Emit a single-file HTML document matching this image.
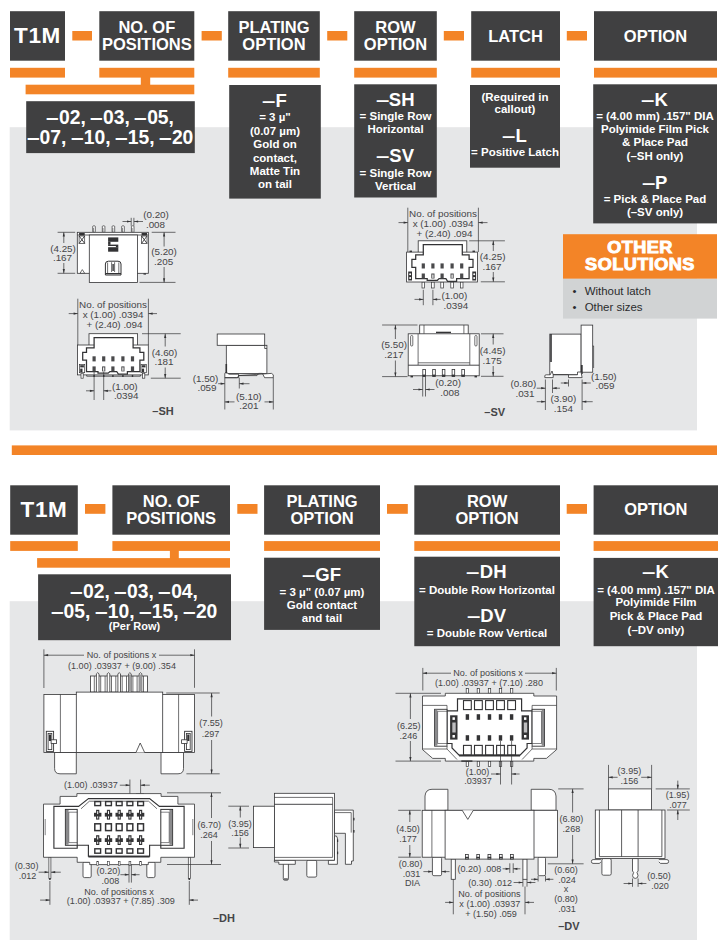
<!DOCTYPE html>
<html lang="en"><head><meta charset="utf-8"><title>T1M Series Ordering</title>
<style>
html,body{margin:0;padding:0;background:#fff}
body{width:725px;height:940px;position:relative;overflow:hidden;font-family:"Liberation Sans",Arial,Helvetica,sans-serif}
.b{position:absolute}
.t{position:absolute;text-align:center;white-space:nowrap}
.d{display:inline-block;transform:scaleX(1.3);transform-origin:100% 50%;margin-left:2px}
.e{display:inline-block;transform:scaleX(1.18);transform-origin:100% 50%;margin-left:1.2px}
.l{position:absolute;font-size:11.45px;line-height:16px;color:#2b2b2d;white-space:nowrap}
svg{position:absolute;left:0;top:0}
svg text{font-family:"Liberation Sans",Arial,Helvetica,sans-serif;fill:#454547}
</style></head><body>
<svg width="725" height="940" viewBox="0 0 725 940">
<rect x="9.7" y="127.2" width="687.3" height="303.2" fill="#e6e7e8"/>
<rect x="9.7" y="601.2" width="687.3" height="338.8" fill="#e6e7e8"/>
<rect x="11.8" y="445.4" width="705.2" height="9.6" fill="#f38427"/>
<rect x="10.0" y="11.2" width="55.0" height="49.5" fill="#404041"/>
<rect x="10.0" y="67.8" width="55.0" height="9.8" fill="#f38427"/>
<rect x="99.3" y="11.2" width="95.0" height="49.5" fill="#404041"/>
<rect x="99.3" y="67.8" width="95.0" height="9.8" fill="#f38427"/>
<rect x="228.2" y="11.2" width="91.6" height="49.5" fill="#404041"/>
<rect x="228.2" y="67.8" width="91.6" height="9.8" fill="#f38427"/>
<rect x="354.2" y="11.2" width="82.6" height="49.5" fill="#404041"/>
<rect x="354.2" y="67.8" width="82.6" height="9.8" fill="#f38427"/>
<rect x="471.2" y="11.2" width="88.8" height="49.5" fill="#404041"/>
<rect x="471.2" y="67.8" width="88.8" height="9.8" fill="#f38427"/>
<rect x="594.0" y="11.2" width="123.0" height="49.5" fill="#404041"/>
<rect x="594.0" y="67.8" width="123.0" height="9.8" fill="#f38427"/>
<rect x="72.3" y="31.0" width="19.7" height="9.5" fill="#f38427"/>
<rect x="201.6" y="31.0" width="20.2" height="9.5" fill="#f38427"/>
<rect x="327.2" y="31.0" width="20.1" height="9.5" fill="#f38427"/>
<rect x="443.8" y="31.0" width="20.2" height="9.5" fill="#f38427"/>
<rect x="566.8" y="31.0" width="20.2" height="9.5" fill="#f38427"/>
<rect x="140.8" y="77.0" width="9.4" height="8.5" fill="#f38427"/>
<rect x="25.6" y="84.7" width="168.7" height="9.6" fill="#f38427"/>
<rect x="26.2" y="101.2" width="168.6" height="51.9" fill="#404041"/>
<rect x="229.2" y="85.0" width="91.6" height="113.6" fill="#404041"/>
<rect x="354.2" y="84.3" width="82.6" height="113.2" fill="#404041"/>
<rect x="470.0" y="85.0" width="90.0" height="82.7" fill="#404041"/>
<rect x="593.2" y="84.3" width="123.8" height="139.1" fill="#404041"/>
<rect x="563.0" y="234.2" width="154.0" height="44.6" fill="#f38427"/>
<rect x="563.0" y="278.8" width="154.0" height="39.8" fill="#d1d3d4"/>
<rect x="10.2" y="485.3" width="67.6" height="49.4" fill="#404041"/>
<rect x="10.2" y="541.1" width="67.6" height="9.8" fill="#f38427"/>
<rect x="112.4" y="485.3" width="117.6" height="49.4" fill="#404041"/>
<rect x="112.4" y="541.1" width="117.6" height="9.8" fill="#f38427"/>
<rect x="264.1" y="485.3" width="115.9" height="49.4" fill="#404041"/>
<rect x="264.1" y="541.1" width="115.9" height="9.8" fill="#f38427"/>
<rect x="414.3" y="485.3" width="145.7" height="49.4" fill="#404041"/>
<rect x="414.3" y="541.1" width="145.7" height="9.8" fill="#f38427"/>
<rect x="593.6" y="485.3" width="124.4" height="49.4" fill="#404041"/>
<rect x="593.6" y="541.1" width="124.4" height="9.8" fill="#f38427"/>
<rect x="85.0" y="504.0" width="20.4" height="9.8" fill="#f38427"/>
<rect x="237.3" y="504.0" width="20.2" height="9.8" fill="#f38427"/>
<rect x="387.0" y="504.0" width="20.8" height="9.8" fill="#f38427"/>
<rect x="566.7" y="504.0" width="20.3" height="9.8" fill="#f38427"/>
<rect x="169.9" y="550.0" width="8.9" height="9.0" fill="#f38427"/>
<rect x="37.1" y="558.1" width="192.9" height="9.6" fill="#f38427"/>
<rect x="38.1" y="574.3" width="192.9" height="65.9" fill="#404041"/>
<rect x="264.1" y="557.7" width="115.9" height="72.2" fill="#404041"/>
<rect x="414.3" y="556.7" width="145.7" height="89.5" fill="#404041"/>
<rect x="593.6" y="557.9" width="124.4" height="88.3" fill="#404041"/>
</svg>
<div class="t" style="left:-162.5px;top:22.10px;width:400px;font-size:22.5px;line-height:27px;color:#fff;font-weight:bold;letter-spacing:0.6px;">T1M</div>
<div class="t" style="left:-53.2px;top:17.38px;width:400px;font-size:16.5px;line-height:20px;color:#fff;font-weight:bold;">NO. OF</div>
<div class="t" style="left:-53.2px;top:33.98px;width:400px;font-size:16.5px;line-height:20px;color:#fff;font-weight:bold;">POSITIONS</div>
<div class="t" style="left:74.0px;top:17.38px;width:400px;font-size:16.5px;line-height:20px;color:#fff;font-weight:bold;">PLATING</div>
<div class="t" style="left:74.0px;top:33.98px;width:400px;font-size:16.5px;line-height:20px;color:#fff;font-weight:bold;">OPTION</div>
<div class="t" style="left:195.5px;top:17.38px;width:400px;font-size:16.5px;line-height:20px;color:#fff;font-weight:bold;">ROW</div>
<div class="t" style="left:195.5px;top:33.98px;width:400px;font-size:16.5px;line-height:20px;color:#fff;font-weight:bold;">OPTION</div>
<div class="t" style="left:315.6px;top:25.78px;width:400px;font-size:16.5px;line-height:20px;color:#fff;font-weight:bold;">LATCH</div>
<div class="t" style="left:455.5px;top:25.78px;width:400px;font-size:16.5px;line-height:20px;color:#fff;font-weight:bold;">OPTION</div>
<div class="t" style="left:-89.5px;top:105.71px;width:400px;font-size:19.3px;line-height:23px;color:#fff;font-weight:bold;"><span class="e">&ndash;</span>02, <span class="e">&ndash;</span>03, <span class="e">&ndash;</span>05,</div>
<div class="t" style="left:-89.5px;top:126.21px;width:400px;font-size:19.3px;line-height:23px;color:#fff;font-weight:bold;"><span class="e">&ndash;</span>07, <span class="e">&ndash;</span>10, <span class="e">&ndash;</span>15, <span class="e">&ndash;</span>20</div>
<div class="t" style="left:75.0px;top:90.19px;width:400px;font-size:18.5px;line-height:22px;color:#fff;font-weight:bold;"><span class="d">&ndash;</span>F</div>
<div class="t" style="left:75.0px;top:110.42px;width:400px;font-size:11.5px;line-height:14px;color:#fff;font-weight:bold;">= 3 &micro;"</div>
<div class="t" style="left:75.0px;top:123.92px;width:400px;font-size:11.5px;line-height:14px;color:#fff;font-weight:bold;">(0.07 &micro;m)</div>
<div class="t" style="left:75.0px;top:137.32px;width:400px;font-size:11.5px;line-height:14px;color:#fff;font-weight:bold;">Gold on</div>
<div class="t" style="left:75.0px;top:150.72px;width:400px;font-size:11.5px;line-height:14px;color:#fff;font-weight:bold;">contact,</div>
<div class="t" style="left:75.0px;top:164.12px;width:400px;font-size:11.5px;line-height:14px;color:#fff;font-weight:bold;">Matte Tin</div>
<div class="t" style="left:75.0px;top:177.42px;width:400px;font-size:11.5px;line-height:14px;color:#fff;font-weight:bold;">on tail</div>
<div class="t" style="left:195.5px;top:89.39px;width:400px;font-size:18.5px;line-height:22px;color:#fff;font-weight:bold;"><span class="d">&ndash;</span>SH</div>
<div class="t" style="left:195.5px;top:109.42px;width:400px;font-size:11.5px;line-height:14px;color:#fff;font-weight:bold;">= Single Row</div>
<div class="t" style="left:195.5px;top:122.22px;width:400px;font-size:11.5px;line-height:14px;color:#fff;font-weight:bold;">Horizontal</div>
<div class="t" style="left:195.5px;top:145.19px;width:400px;font-size:18.5px;line-height:22px;color:#fff;font-weight:bold;"><span class="d">&ndash;</span>SV</div>
<div class="t" style="left:195.5px;top:166.02px;width:400px;font-size:11.5px;line-height:14px;color:#fff;font-weight:bold;">= Single Row</div>
<div class="t" style="left:195.5px;top:179.22px;width:400px;font-size:11.5px;line-height:14px;color:#fff;font-weight:bold;">Vertical</div>
<div class="t" style="left:315.0px;top:89.72px;width:400px;font-size:11.5px;line-height:14px;color:#fff;font-weight:bold;">(Required in</div>
<div class="t" style="left:315.0px;top:102.32px;width:400px;font-size:11.5px;line-height:14px;color:#fff;font-weight:bold;">callout)</div>
<div class="t" style="left:315.0px;top:124.59px;width:400px;font-size:18.5px;line-height:22px;color:#fff;font-weight:bold;"><span class="d">&ndash;</span>L</div>
<div class="t" style="left:315.0px;top:145.42px;width:400px;font-size:11.5px;line-height:14px;color:#fff;font-weight:bold;">= Positive Latch</div>
<div class="t" style="left:455.0px;top:88.79px;width:400px;font-size:18.5px;line-height:22px;color:#fff;font-weight:bold;"><span class="d">&ndash;</span>K</div>
<div class="t" style="left:455.0px;top:109.22px;width:400px;font-size:11.5px;line-height:14px;color:#fff;font-weight:bold;">= (4.00 mm) .157" DIA</div>
<div class="t" style="left:455.0px;top:122.22px;width:400px;font-size:11.5px;line-height:14px;color:#fff;font-weight:bold;">Polyimide Film Pick</div>
<div class="t" style="left:455.0px;top:135.02px;width:400px;font-size:11.5px;line-height:14px;color:#fff;font-weight:bold;">&amp; Place Pad</div>
<div class="t" style="left:455.0px;top:148.62px;width:400px;font-size:11.5px;line-height:14px;color:#fff;font-weight:bold;">(&ndash;SH only)</div>
<div class="t" style="left:455.0px;top:171.59px;width:400px;font-size:18.5px;line-height:22px;color:#fff;font-weight:bold;"><span class="d">&ndash;</span>P</div>
<div class="t" style="left:455.0px;top:192.32px;width:400px;font-size:11.5px;line-height:14px;color:#fff;font-weight:bold;">= Pick &amp; Place Pad</div>
<div class="t" style="left:455.0px;top:205.22px;width:400px;font-size:11.5px;line-height:14px;color:#fff;font-weight:bold;">(&ndash;SV only)</div>
<div class="t" style="left:440.0px;top:238.49px;width:400px;font-size:16.2px;line-height:19px;color:#fff;font-weight:bold;transform:scaleX(1.12);-webkit-text-stroke:0.9px #fff;letter-spacing:0.4px;">OTHER</div>
<div class="t" style="left:440.0px;top:254.69px;width:400px;font-size:16.2px;line-height:19px;color:#fff;font-weight:bold;transform:scaleX(1.12);-webkit-text-stroke:0.9px #fff;letter-spacing:0.4px;">SOLUTIONS</div>
<div class="l" style="left:572.5px;top:282.8px">&bull;</div><div class="l" style="left:584.7px;top:282.8px">Without latch</div>
<div class="l" style="left:572.5px;top:298.9px">&bull;</div><div class="l" style="left:584.7px;top:298.9px">Other sizes</div>
<div class="t" style="left:-156.0px;top:495.80px;width:400px;font-size:22.5px;line-height:27px;color:#fff;font-weight:bold;letter-spacing:0.6px;">T1M</div>
<div class="t" style="left:-28.8px;top:490.78px;width:400px;font-size:16.5px;line-height:20px;color:#fff;font-weight:bold;">NO. OF</div>
<div class="t" style="left:-28.8px;top:508.18px;width:400px;font-size:16.5px;line-height:20px;color:#fff;font-weight:bold;">POSITIONS</div>
<div class="t" style="left:122.1px;top:490.78px;width:400px;font-size:16.5px;line-height:20px;color:#fff;font-weight:bold;">PLATING</div>
<div class="t" style="left:122.1px;top:508.18px;width:400px;font-size:16.5px;line-height:20px;color:#fff;font-weight:bold;">OPTION</div>
<div class="t" style="left:287.1px;top:490.78px;width:400px;font-size:16.5px;line-height:20px;color:#fff;font-weight:bold;">ROW</div>
<div class="t" style="left:287.1px;top:508.18px;width:400px;font-size:16.5px;line-height:20px;color:#fff;font-weight:bold;">OPTION</div>
<div class="t" style="left:455.8px;top:499.48px;width:400px;font-size:16.5px;line-height:20px;color:#fff;font-weight:bold;">OPTION</div>
<div class="t" style="left:-65.5px;top:579.71px;width:400px;font-size:19.3px;line-height:23px;color:#fff;font-weight:bold;"><span class="e">&ndash;</span>02, <span class="e">&ndash;</span>03, <span class="e">&ndash;</span>04,</div>
<div class="t" style="left:-65.5px;top:599.51px;width:400px;font-size:19.3px;line-height:23px;color:#fff;font-weight:bold;"><span class="e">&ndash;</span>05, <span class="e">&ndash;</span>10, <span class="e">&ndash;</span>15, <span class="e">&ndash;</span>20</div>
<div class="t" style="left:-65.5px;top:619.99px;width:400px;font-size:11px;line-height:13px;color:#fff;font-weight:bold;">(Per Row)</div>
<div class="t" style="left:122.0px;top:564.19px;width:400px;font-size:18.5px;line-height:22px;color:#fff;font-weight:bold;"><span class="d">&ndash;</span>GF</div>
<div class="t" style="left:122.0px;top:584.82px;width:400px;font-size:11.5px;line-height:14px;color:#fff;font-weight:bold;">= 3 &micro;" (0.07 &micro;m)</div>
<div class="t" style="left:122.0px;top:598.02px;width:400px;font-size:11.5px;line-height:14px;color:#fff;font-weight:bold;">Gold contact</div>
<div class="t" style="left:122.0px;top:610.62px;width:400px;font-size:11.5px;line-height:14px;color:#fff;font-weight:bold;">and tail</div>
<div class="t" style="left:287.0px;top:561.49px;width:400px;font-size:18.5px;line-height:22px;color:#fff;font-weight:bold;"><span class="d">&ndash;</span>DH</div>
<div class="t" style="left:287.0px;top:583.22px;width:400px;font-size:11.5px;line-height:14px;color:#fff;font-weight:bold;">= Double Row Horizontal</div>
<div class="t" style="left:287.0px;top:604.99px;width:400px;font-size:18.5px;line-height:22px;color:#fff;font-weight:bold;"><span class="d">&ndash;</span>DV</div>
<div class="t" style="left:287.0px;top:626.22px;width:400px;font-size:11.5px;line-height:14px;color:#fff;font-weight:bold;">= Double Row Vertical</div>
<div class="t" style="left:456.0px;top:561.49px;width:400px;font-size:18.5px;line-height:22px;color:#fff;font-weight:bold;"><span class="d">&ndash;</span>K</div>
<div class="t" style="left:456.0px;top:583.22px;width:400px;font-size:11.5px;line-height:14px;color:#fff;font-weight:bold;">= (4.00 mm) .157" DIA</div>
<div class="t" style="left:456.0px;top:595.32px;width:400px;font-size:11.5px;line-height:14px;color:#fff;font-weight:bold;">Polyimide Film</div>
<div class="t" style="left:456.0px;top:609.22px;width:400px;font-size:11.5px;line-height:14px;color:#fff;font-weight:bold;">Pick &amp; Place Pad</div>
<div class="t" style="left:456.0px;top:622.82px;width:400px;font-size:11.5px;line-height:14px;color:#fff;font-weight:bold;">(&ndash;DV only)</div>
<svg width="725" height="940" viewBox="0 0 725 940" fill="none" stroke="#333335" stroke-linecap="butt"><rect x="92.7" y="225.8" width="2.6" height="6.5" fill="#fff" stroke-width="0.7" rx="0.8"/>
<line x1="93.5" y1="228.0" x2="93.5" y2="232.0" stroke-width="0.5"/>
<rect x="102.3" y="225.8" width="2.6" height="6.5" fill="#fff" stroke-width="0.7" rx="0.8"/>
<line x1="103.1" y1="228.0" x2="103.1" y2="232.0" stroke-width="0.5"/>
<rect x="112.1" y="225.8" width="2.6" height="6.5" fill="#fff" stroke-width="0.7" rx="0.8"/>
<line x1="112.9" y1="228.0" x2="112.9" y2="232.0" stroke-width="0.5"/>
<rect x="121.7" y="225.8" width="2.6" height="6.5" fill="#fff" stroke-width="0.7" rx="0.8"/>
<line x1="122.5" y1="228.0" x2="122.5" y2="232.0" stroke-width="0.5"/>
<rect x="131.4" y="225.8" width="2.6" height="6.5" fill="#fff" stroke-width="0.7" rx="0.8"/>
<line x1="132.2" y1="228.0" x2="132.2" y2="232.0" stroke-width="0.5"/>
<rect x="77.3" y="232.3" width="71.0" height="41.0" fill="#fff" stroke-width="0.8"/>
<line x1="77.3" y1="235.0" x2="148.3" y2="235.0" stroke-width="0.8"/>
<rect x="89.3" y="235.0" width="48.1" height="47.4" fill="#fff" stroke-width="0.8"/>
<rect x="79.1" y="233.0" width="5.6" height="2.4" fill="#333335" stroke="none"/>
<rect x="79.1" y="236.0" width="5.6" height="7.4" fill="#fff" stroke-width="0.7"/>
<line x1="79.1" y1="236.0" x2="84.7" y2="243.4" stroke-width="0.9"/>
<line x1="84.7" y1="236.0" x2="79.1" y2="243.4" stroke-width="0.9"/>
<rect x="141.6" y="233.0" width="5.4" height="2.4" fill="#333335" stroke="none"/>
<rect x="141.6" y="236.0" width="5.4" height="7.4" fill="#fff" stroke-width="0.7"/>
<line x1="141.6" y1="236.0" x2="147.0" y2="243.4" stroke-width="0.9"/>
<line x1="147.0" y1="236.0" x2="141.6" y2="243.4" stroke-width="0.9"/>
<rect x="108.1" y="237.4" width="10.2" height="4.4" fill="#333335" stroke="none"/>
<rect x="108.1" y="241.8" width="2.4" height="3.0" fill="#333335" stroke="none"/>
<rect x="108.1" y="244.6" width="10.2" height="1.4" fill="#333335" stroke="none"/>
<rect x="115.9" y="246.0" width="2.4" height="1.4" fill="#333335" stroke="none"/>
<rect x="108.1" y="247.2" width="10.2" height="4.5" fill="#333335" stroke="none"/>
<path d="M105.4 275 L105.4 264 Q105.4 261.2 108.4 261.2 L118 261.2 Q121 261.2 121 264 L121 275 Z" fill="#fff" stroke-width="1.0"/>
<line x1="105.4" y1="273.6" x2="121.0" y2="273.6" stroke-width="1.2"/>
<line x1="107.6" y1="262.5" x2="107.6" y2="273.6" stroke-width="0.7"/>
<line x1="118.8" y1="262.5" x2="118.8" y2="273.6" stroke-width="0.7"/>
<line x1="111.6" y1="262.2" x2="111.6" y2="272.0" stroke-width="0.7"/>
<line x1="114.6" y1="262.2" x2="114.6" y2="272.0" stroke-width="0.7"/>
<line x1="113.1" y1="264.0" x2="113.1" y2="271.0" stroke-width="1.4"/>
<path d="M80.0 273.3 L82.3 269.6 L84.7 273.3 Z" fill="#fff" stroke-width="0.7"/>
<rect x="143.5" y="273.3" width="2.5" height="1.3" fill="#333335" stroke="none"/>
<line x1="57.6" y1="232.3" x2="75.2" y2="232.3" stroke-width="0.7"/>
<line x1="57.6" y1="273.3" x2="75.2" y2="273.3" stroke-width="0.7"/>
<line x1="63.8" y1="243.0" x2="63.8" y2="232.3" stroke-width="0.7"/>
<path d="M63.8 232.3 L64.9 236.5 L62.7 236.5 Z" fill="#333335" stroke="none"/>
<line x1="63.8" y1="263.0" x2="63.8" y2="273.3" stroke-width="0.7"/>
<path d="M63.8 273.3 L62.7 269.1 L64.9 269.1 Z" fill="#333335" stroke="none"/>
<text x="63.0" y="251.5" font-size="9.85" text-anchor="middle" font-weight="normal" stroke="none">(4.25)</text>
<text x="62.5" y="261.3" font-size="9.85" text-anchor="middle" font-weight="normal" stroke="none">.167</text>
<line x1="151.7" y1="232.3" x2="175.5" y2="232.3" stroke-width="0.7"/>
<line x1="139.5" y1="282.4" x2="175.5" y2="282.4" stroke-width="0.7"/>
<line x1="164.1" y1="246.5" x2="164.1" y2="232.3" stroke-width="0.7"/>
<path d="M164.1 232.3 L165.2 236.5 L163.0 236.5 Z" fill="#333335" stroke="none"/>
<line x1="164.1" y1="267.0" x2="164.1" y2="282.4" stroke-width="0.7"/>
<path d="M164.1 282.4 L163.0 278.2 L165.2 278.2 Z" fill="#333335" stroke="none"/>
<text x="164.0" y="255.1" font-size="9.85" text-anchor="middle" font-weight="normal" stroke="none">(5.20)</text>
<text x="163.6" y="265.0" font-size="9.85" text-anchor="middle" font-weight="normal" stroke="none">.205</text>
<line x1="131.2" y1="217.8" x2="131.2" y2="225.8" stroke-width="0.7"/>
<line x1="133.9" y1="217.8" x2="133.9" y2="225.8" stroke-width="0.7"/>
<line x1="122.5" y1="221.5" x2="131.2" y2="221.5" stroke-width="0.7"/>
<path d="M131.2 221.5 L127.0 222.6 L127.0 220.4 Z" fill="#333335" stroke="none"/>
<line x1="143.0" y1="221.5" x2="133.9" y2="221.5" stroke-width="0.7"/>
<path d="M133.9 221.5 L138.1 220.4 L138.1 222.6 Z" fill="#333335" stroke="none"/>
<text x="156.0" y="218.3" font-size="9.85" text-anchor="middle" font-weight="normal" stroke="none">(0.20)</text>
<text x="155.5" y="227.5" font-size="9.85" text-anchor="middle" font-weight="normal" stroke="none">.008</text>
<line x1="77.8" y1="298.7" x2="77.8" y2="345.0" stroke-width="0.7"/>
<line x1="148.4" y1="298.7" x2="148.4" y2="345.0" stroke-width="0.7"/>
<line x1="68.7" y1="313.6" x2="77.8" y2="313.6" stroke-width="0.7"/>
<path d="M77.8 313.6 L73.6 314.7 L73.6 312.5 Z" fill="#333335" stroke="none"/>
<line x1="157.0" y1="313.6" x2="148.4" y2="313.6" stroke-width="0.7"/>
<path d="M148.4 313.6 L152.6 312.5 L152.6 314.7 Z" fill="#333335" stroke="none"/>
<text x="113.0" y="307.9" font-size="9.85" text-anchor="middle" font-weight="normal" stroke="none">No. of positions</text>
<text x="113.0" y="318.1" font-size="9.85" text-anchor="middle" font-weight="normal" stroke="none">x (1.00) .0394</text>
<text x="114.5" y="328.2" font-size="9.85" text-anchor="middle" font-weight="normal" stroke="none">+ (2.40) .094</text>
<rect x="89.0" y="333.7" width="48.6" height="12.3" fill="#fff" stroke-width="0.8"/>
<rect x="77.4" y="345.0" width="70.9" height="29.9" fill="#fff" stroke-width="0.8"/>
<path d="M94.1 337.6 L133.1 337.6 L133.1 347.8 L139.9 347.8 L139.9 352.3 L143.8 352.3 L143.8 360.2 L139.9 360.2 L139.9 371.5 L127.4 371.5 L127.4 374.2 L118.4 374.2 L116.7 371.5 L109.9 371.5 L108.2 373.2 L98.0 373.2 L98.0 371.5 L86.5 371.5 L86.5 360.2 L82.7 360.2 L82.7 352.3 L86.5 352.3 L86.5 347.8 L94.1 347.8 Z" fill="#fff" stroke-width="1.25"/>
<rect x="92.5" y="356.3" width="3.2" height="5.1" fill="#4a4a4c" stroke="none"/>
<rect x="92.5" y="366.4" width="3.2" height="5" fill="#4a4a4c" stroke="none"/>
<rect x="102.1" y="356.3" width="3.2" height="5.1" fill="#4a4a4c" stroke="none"/>
<rect x="102.1" y="366.4" width="3.2" height="5" fill="#4a4a4c" stroke="none"/>
<rect x="111.3" y="356.3" width="3.2" height="5.1" fill="#4a4a4c" stroke="none"/>
<rect x="111.3" y="366.4" width="3.2" height="5" fill="#4a4a4c" stroke="none"/>
<rect x="121.3" y="356.3" width="3.2" height="5.1" fill="#4a4a4c" stroke="none"/>
<rect x="121.3" y="366.4" width="3.2" height="5" fill="#4a4a4c" stroke="none"/>
<rect x="130.9" y="356.3" width="3.2" height="5.1" fill="#4a4a4c" stroke="none"/>
<rect x="130.9" y="366.4" width="3.2" height="5" fill="#4a4a4c" stroke="none"/>
<rect x="103.1" y="367.4" width="1.2" height="3.4" fill="#fff" stroke="none"/>
<rect x="122.3" y="367.4" width="1.2" height="3.4" fill="#fff" stroke="none"/>
<line x1="86.7" y1="376.2" x2="140.4" y2="376.2" stroke-width="0.8"/>
<line x1="86.7" y1="374.9" x2="86.7" y2="376.2" stroke-width="0.8"/>
<line x1="140.4" y1="374.9" x2="140.4" y2="376.2" stroke-width="0.8"/>
<line x1="94.1" y1="374.9" x2="94.1" y2="377.0" stroke-width="1.4"/>
<line x1="103.7" y1="374.9" x2="103.7" y2="377.0" stroke-width="1.4"/>
<line x1="112.9" y1="374.9" x2="112.9" y2="377.0" stroke-width="1.4"/>
<line x1="122.9" y1="374.9" x2="122.9" y2="377.0" stroke-width="1.4"/>
<line x1="132.5" y1="374.9" x2="132.5" y2="377.0" stroke-width="1.4"/>
<rect x="79.4" y="364.4" width="5.3" height="8.3" fill="#fff" stroke-width="0.7"/>
<rect x="80.2" y="365.2" width="3.7" height="2.2" fill="#333335" stroke="none"/>
<rect x="80.2" y="368.6" width="2.3" height="3.4" fill="#333335" stroke="none"/>
<rect x="81.0" y="373.2" width="2.2" height="5.0" fill="#fff" stroke-width="0.7"/>
<rect x="141.0" y="364.4" width="5.3" height="8.3" fill="#fff" stroke-width="0.7"/>
<rect x="141.8" y="365.2" width="3.7" height="2.2" fill="#333335" stroke="none"/>
<rect x="141.8" y="368.6" width="2.3" height="3.4" fill="#333335" stroke="none"/>
<rect x="142.6" y="373.2" width="2.2" height="5.0" fill="#fff" stroke-width="0.7"/>
<line x1="142.0" y1="333.7" x2="180.7" y2="333.7" stroke-width="0.7"/>
<line x1="150.8" y1="378.2" x2="180.7" y2="378.2" stroke-width="0.7"/>
<line x1="165.2" y1="346.5" x2="165.2" y2="333.7" stroke-width="0.7"/>
<path d="M165.2 333.7 L166.3 337.9 L164.1 337.9 Z" fill="#333335" stroke="none"/>
<line x1="165.2" y1="367.5" x2="165.2" y2="378.2" stroke-width="0.7"/>
<path d="M165.2 378.2 L164.1 374.0 L166.3 374.0 Z" fill="#333335" stroke="none"/>
<text x="164.5" y="355.7" font-size="9.85" text-anchor="middle" font-weight="normal" stroke="none">(4.60)</text>
<text x="164.0" y="365.3" font-size="9.85" text-anchor="middle" font-weight="normal" stroke="none">.181</text>
<line x1="94.1" y1="372.0" x2="94.1" y2="400.0" stroke-width="0.7"/>
<line x1="103.7" y1="372.0" x2="103.7" y2="400.0" stroke-width="0.7"/>
<line x1="86.0" y1="390.8" x2="94.1" y2="390.8" stroke-width="0.7"/>
<path d="M94.1 390.8 L89.9 391.9 L89.9 389.7 Z" fill="#333335" stroke="none"/>
<line x1="111.4" y1="390.8" x2="103.7" y2="390.8" stroke-width="0.7"/>
<path d="M103.7 390.8 L107.9 389.7 L107.9 391.9 Z" fill="#333335" stroke="none"/>
<text x="124.8" y="389.7" font-size="9.85" text-anchor="middle" font-weight="normal" stroke="none">(1.00)</text>
<text x="126.2" y="399.3" font-size="9.85" text-anchor="middle" font-weight="normal" stroke="none">.0394</text>
<text x="152.3" y="414.6" font-size="11" text-anchor="start" font-weight="bold" stroke="none" fill="#2b2b2d">&ndash;SH</text>
<rect x="226.3" y="345.3" width="40.6" height="28.1" fill="#fff" stroke-width="0.8"/>
<rect x="217.2" y="334.0" width="47.5" height="11.3" fill="#fff" stroke-width="0.8"/>
<line x1="264.7" y1="345.3" x2="264.7" y2="348.5" stroke-width="0.8"/>
<line x1="264.7" y1="348.5" x2="266.9" y2="348.5" stroke-width="0.8"/>
<path d="M224.8 377.7 L224.8 373.6 Q224.8 372.4 226.5 372.4 L229 374.2 L238.6 374.2 L238.6 377.7 Z" fill="#fff" stroke-width="0.8"/>
<path d="M238.6 375.6 L257 375.6 L258.6 373.4 L262.4 373.4 L264.6 377.7 L273.3 377.7 L273.3 374.8 L271.5 373.4 Z" fill="#fff" stroke-width="0.8"/>
<path d="M224.8 377.7 L236.5 377.7 Q238.6 377.7 238.6 375.6" fill="none" stroke-width="0.8"/>
<line x1="226.3" y1="364.0" x2="226.3" y2="373.4" stroke-width="1.6"/>
<line x1="224.8" y1="377.7" x2="224.8" y2="409.5" stroke-width="0.7"/>
<line x1="239.3" y1="377.7" x2="239.3" y2="388.5" stroke-width="0.7"/>
<line x1="273.3" y1="377.7" x2="273.3" y2="409.5" stroke-width="0.7"/>
<line x1="218.2" y1="383.7" x2="224.8" y2="383.7" stroke-width="0.7"/>
<path d="M224.8 383.7 L220.6 384.8 L220.6 382.6 Z" fill="#333335" stroke="none"/>
<line x1="249.5" y1="383.7" x2="239.3" y2="383.7" stroke-width="0.7"/>
<path d="M239.3 383.7 L243.5 382.6 L243.5 384.8 Z" fill="#333335" stroke="none"/>
<text x="205.5" y="381.9" font-size="9.85" text-anchor="middle" font-weight="normal" stroke="none">(1.50)</text>
<text x="207.0" y="391.1" font-size="9.85" text-anchor="middle" font-weight="normal" stroke="none">.059</text>
<line x1="234.5" y1="401.9" x2="224.8" y2="401.9" stroke-width="0.7"/>
<path d="M224.8 401.9 L229.0 400.8 L229.0 403.0 Z" fill="#333335" stroke="none"/>
<line x1="264.5" y1="401.9" x2="273.3" y2="401.9" stroke-width="0.7"/>
<path d="M273.3 401.9 L269.1 403.0 L269.1 400.8 Z" fill="#333335" stroke="none"/>
<text x="248.8" y="399.7" font-size="9.85" text-anchor="middle" font-weight="normal" stroke="none">(5.10)</text>
<text x="248.8" y="409.3" font-size="9.85" text-anchor="middle" font-weight="normal" stroke="none">.201</text>
<line x1="407.8" y1="207.7" x2="407.8" y2="252.0" stroke-width="0.7"/>
<line x1="478.4" y1="207.7" x2="478.4" y2="252.0" stroke-width="0.7"/>
<line x1="398.5" y1="222.6" x2="407.8" y2="222.6" stroke-width="0.7"/>
<path d="M407.8 222.6 L403.6 223.7 L403.6 221.5 Z" fill="#333335" stroke="none"/>
<line x1="487.5" y1="222.6" x2="478.4" y2="222.6" stroke-width="0.7"/>
<path d="M478.4 222.6 L482.6 221.5 L482.6 223.7 Z" fill="#333335" stroke="none"/>
<text x="443.0" y="217.3" font-size="9.85" text-anchor="middle" font-weight="normal" stroke="none">No. of positions</text>
<text x="443.0" y="227.2" font-size="9.85" text-anchor="middle" font-weight="normal" stroke="none">x (1.00) .0394</text>
<text x="444.5" y="236.8" font-size="9.85" text-anchor="middle" font-weight="normal" stroke="none">+ (2.40) .094</text>
<rect x="422.0" y="282.0" width="2.6" height="6.0" fill="#fff" stroke-width="0.7"/>
<rect x="431.6" y="282.0" width="2.6" height="6.0" fill="#fff" stroke-width="0.7"/>
<rect x="440.8" y="282.0" width="2.6" height="6.0" fill="#fff" stroke-width="0.7"/>
<rect x="450.8" y="282.0" width="2.6" height="6.0" fill="#fff" stroke-width="0.7"/>
<rect x="460.4" y="282.0" width="2.6" height="6.0" fill="#fff" stroke-width="0.7"/>
<rect x="418.2" y="240.8" width="48.6" height="12.3" fill="#fff" stroke-width="0.8"/>
<rect x="406.6" y="252.1" width="70.9" height="29.9" fill="#fff" stroke-width="0.8"/>
<path d="M423.3 244.7 L462.3 244.7 L462.3 254.9 L469.1 254.9 L469.1 259.4 L473.0 259.4 L473.0 267.3 L469.1 267.3 L469.1 278.6 L456.6 278.6 L456.6 281.3 L447.6 281.3 L445.9 278.6 L439.1 278.6 L437.4 280.3 L427.2 280.3 L427.2 278.6 L415.7 278.6 L415.7 267.3 L411.9 267.3 L411.9 259.4 L415.7 259.4 L415.7 254.9 L423.3 254.9 Z" fill="#fff" stroke-width="1.25"/>
<rect x="421.7" y="263.4" width="3.2" height="5.1" fill="#4a4a4c" stroke="none"/>
<rect x="421.7" y="273.5" width="3.2" height="5" fill="#4a4a4c" stroke="none"/>
<rect x="431.3" y="263.4" width="3.2" height="5.1" fill="#4a4a4c" stroke="none"/>
<rect x="431.3" y="273.5" width="3.2" height="5" fill="#4a4a4c" stroke="none"/>
<rect x="440.5" y="263.4" width="3.2" height="5.1" fill="#4a4a4c" stroke="none"/>
<rect x="440.5" y="273.5" width="3.2" height="5" fill="#4a4a4c" stroke="none"/>
<rect x="450.5" y="263.4" width="3.2" height="5.1" fill="#4a4a4c" stroke="none"/>
<rect x="450.5" y="273.5" width="3.2" height="5" fill="#4a4a4c" stroke="none"/>
<rect x="460.1" y="263.4" width="3.2" height="5.1" fill="#4a4a4c" stroke="none"/>
<rect x="460.1" y="273.5" width="3.2" height="5" fill="#4a4a4c" stroke="none"/>
<rect x="432.3" y="274.5" width="1.2" height="3.4" fill="#fff" stroke="none"/>
<rect x="451.5" y="274.5" width="1.2" height="3.4" fill="#fff" stroke="none"/>
<rect x="409.5" y="250.6" width="2.5" height="1.5" fill="#333335" stroke="none"/>
<rect x="472.5" y="250.6" width="2.5" height="1.5" fill="#333335" stroke="none"/>
<rect x="408.2" y="271.5" width="3.8" height="9.0" fill="#333335" stroke="none"/>
<circle cx="410.1" cy="274.2" r="1" fill="#fff" stroke="none"/>
<circle cx="410.1" cy="278" r="1" fill="#fff" stroke="none"/>
<rect x="472.3" y="271.5" width="3.8" height="9.0" fill="#333335" stroke="none"/>
<circle cx="474.2" cy="274.2" r="1" fill="#fff" stroke="none"/>
<circle cx="474.2" cy="278" r="1" fill="#fff" stroke="none"/>
<line x1="469.2" y1="240.8" x2="504.9" y2="240.8" stroke-width="0.7"/>
<line x1="480.8" y1="281.8" x2="504.9" y2="281.8" stroke-width="0.7"/>
<line x1="493.3" y1="251.0" x2="493.3" y2="240.8" stroke-width="0.7"/>
<path d="M493.3 240.8 L494.4 245.0 L492.2 245.0 Z" fill="#333335" stroke="none"/>
<line x1="493.3" y1="272.0" x2="493.3" y2="281.8" stroke-width="0.7"/>
<path d="M493.3 281.8 L492.2 277.6 L494.4 277.6 Z" fill="#333335" stroke="none"/>
<text x="492.6" y="260.1" font-size="9.85" text-anchor="middle" font-weight="normal" stroke="none">(4.25)</text>
<text x="492.0" y="270.0" font-size="9.85" text-anchor="middle" font-weight="normal" stroke="none">.167</text>
<line x1="423.3" y1="289.8" x2="423.3" y2="305.2" stroke-width="0.7"/>
<line x1="432.9" y1="289.8" x2="432.9" y2="305.2" stroke-width="0.7"/>
<line x1="414.5" y1="299.4" x2="423.3" y2="299.4" stroke-width="0.7"/>
<path d="M423.3 299.4 L419.1 300.5 L419.1 298.3 Z" fill="#333335" stroke="none"/>
<line x1="440.6" y1="299.4" x2="432.9" y2="299.4" stroke-width="0.7"/>
<path d="M432.9 299.4 L437.1 298.3 L437.1 300.5 Z" fill="#333335" stroke="none"/>
<text x="454.4" y="298.5" font-size="9.85" text-anchor="middle" font-weight="normal" stroke="none">(1.00)</text>
<text x="455.8" y="308.7" font-size="9.85" text-anchor="middle" font-weight="normal" stroke="none">.0394</text>
<line x1="382.1" y1="325.0" x2="417.5" y2="325.0" stroke-width="0.7"/>
<line x1="382.1" y1="376.6" x2="407.5" y2="376.6" stroke-width="0.7"/>
<line x1="395.4" y1="339.0" x2="395.4" y2="325.0" stroke-width="0.7"/>
<path d="M395.4 325.0 L396.5 329.2 L394.3 329.2 Z" fill="#333335" stroke="none"/>
<line x1="395.4" y1="360.5" x2="395.4" y2="376.6" stroke-width="0.7"/>
<path d="M395.4 376.6 L394.3 372.4 L396.5 372.4 Z" fill="#333335" stroke="none"/>
<text x="394.2" y="348.3" font-size="9.85" text-anchor="middle" font-weight="normal" stroke="none">(5.50)</text>
<text x="393.8" y="358.2" font-size="9.85" text-anchor="middle" font-weight="normal" stroke="none">.217</text>
<rect x="419.7" y="325.0" width="48.5" height="9.5" fill="#fff" stroke-width="0.8"/>
<line x1="424.0" y1="325.0" x2="424.0" y2="333.8" stroke-width="0.7"/>
<line x1="463.9" y1="325.0" x2="463.9" y2="333.8" stroke-width="0.7"/>
<line x1="436.0" y1="332.4" x2="451.0" y2="332.4" stroke-width="1.4"/>
<rect x="408.2" y="333.8" width="71.0" height="42.0" fill="#fff" stroke-width="0.8"/>
<line x1="418.1" y1="333.8" x2="418.1" y2="365.0" stroke-width="0.7"/>
<line x1="469.8" y1="333.8" x2="469.8" y2="365.0" stroke-width="0.7"/>
<line x1="418.1" y1="362.8" x2="469.8" y2="362.8" stroke-width="0.7"/>
<line x1="408.2" y1="365.2" x2="479.2" y2="365.2" stroke-width="0.9"/>
<rect x="410.6" y="335.5" width="2.2" height="10.5" fill="#fff" stroke-width="0.7" rx="1"/>
<rect x="474.8" y="335.5" width="2.2" height="10.5" fill="#fff" stroke-width="0.7" rx="1"/>
<rect x="422.8" y="369.4" width="2.6" height="7.0" fill="#fff" stroke-width="0.8"/>
<rect x="422.6" y="374.6" width="3.0" height="2.0" fill="#333335" stroke="none"/>
<rect x="432.7" y="369.4" width="2.6" height="7.0" fill="#fff" stroke-width="0.8"/>
<rect x="432.5" y="374.6" width="3.0" height="2.0" fill="#333335" stroke="none"/>
<rect x="442.3" y="369.4" width="2.6" height="7.0" fill="#fff" stroke-width="0.8"/>
<rect x="442.1" y="374.6" width="3.0" height="2.0" fill="#333335" stroke="none"/>
<rect x="452.1" y="369.4" width="2.6" height="7.0" fill="#fff" stroke-width="0.8"/>
<rect x="451.9" y="374.6" width="3.0" height="2.0" fill="#333335" stroke="none"/>
<rect x="461.8" y="369.4" width="2.6" height="7.0" fill="#fff" stroke-width="0.8"/>
<rect x="461.6" y="374.6" width="3.0" height="2.0" fill="#333335" stroke="none"/>
<rect x="410.5" y="375.8" width="2.5" height="1.6" fill="#333335" stroke="none"/>
<rect x="474.5" y="375.8" width="2.5" height="1.6" fill="#333335" stroke="none"/>
<line x1="481.0" y1="333.8" x2="503.5" y2="333.8" stroke-width="0.7"/>
<line x1="481.0" y1="376.3" x2="503.5" y2="376.3" stroke-width="0.7"/>
<line x1="493.2" y1="344.5" x2="493.2" y2="333.8" stroke-width="0.7"/>
<path d="M493.2 333.8 L494.3 338.0 L492.1 338.0 Z" fill="#333335" stroke="none"/>
<line x1="493.2" y1="366.0" x2="493.2" y2="376.3" stroke-width="0.7"/>
<path d="M493.2 376.3 L492.1 372.1 L494.3 372.1 Z" fill="#333335" stroke="none"/>
<text x="492.6" y="353.9" font-size="9.85" text-anchor="middle" font-weight="normal" stroke="none">(4.45)</text>
<text x="492.2" y="363.9" font-size="9.85" text-anchor="middle" font-weight="normal" stroke="none">.175</text>
<line x1="422.7" y1="376.6" x2="422.7" y2="396.5" stroke-width="0.7"/>
<line x1="425.5" y1="376.6" x2="425.5" y2="396.5" stroke-width="0.7"/>
<line x1="413.0" y1="389.5" x2="422.7" y2="389.5" stroke-width="0.7"/>
<path d="M422.7 389.5 L418.5 390.6 L418.5 388.4 Z" fill="#333335" stroke="none"/>
<line x1="434.5" y1="389.5" x2="425.5" y2="389.5" stroke-width="0.7"/>
<path d="M425.5 389.5 L429.7 388.4 L429.7 390.6 Z" fill="#333335" stroke="none"/>
<text x="448.2" y="386.3" font-size="9.85" text-anchor="middle" font-weight="normal" stroke="none">(0.20)</text>
<text x="449.8" y="396.3" font-size="9.85" text-anchor="middle" font-weight="normal" stroke="none">.008</text>
<text x="484.3" y="415.6" font-size="11" text-anchor="start" font-weight="bold" stroke="none" fill="#2b2b2d">&ndash;SV</text>
<rect x="549.8" y="334.1" width="31.3" height="40.6" fill="#fff" stroke-width="0.8"/>
<rect x="581.1" y="325.1" width="11.6" height="47.1" fill="#fff" stroke-width="0.8"/>
<line x1="551.0" y1="334.1" x2="551.0" y2="362.0" stroke-width="1.6"/>
<line x1="581.8" y1="365.0" x2="581.8" y2="374.0" stroke-width="1.8"/>
<path d="M544.8 377.6 L544.8 376 Q544.8 374.8 546.2 374.8 L550.2 374.8 L552 371 L553.2 374.8 L553.2 377.6 Z" fill="#fff" stroke-width="0.8"/>
<path d="M568.5 377.6 L568.5 374.8 L577.5 374.8 L577.5 372 L581.1 372 L582.1 377.6 Z" fill="#fff" stroke-width="0.8"/>
<line x1="553.2" y1="374.7" x2="568.5" y2="374.7" stroke-width="0.8"/>
<line x1="592.7" y1="346.0" x2="593.8" y2="346.0" stroke-width="0.7"/>
<line x1="593.6" y1="346.0" x2="593.6" y2="368.0" stroke-width="0.7"/>
<line x1="545.4" y1="379.5" x2="545.4" y2="410.0" stroke-width="0.7"/>
<line x1="552.5" y1="379.5" x2="552.5" y2="393.0" stroke-width="0.7"/>
<line x1="568.5" y1="379.5" x2="568.5" y2="386.5" stroke-width="0.7"/>
<line x1="582.1" y1="379.5" x2="582.1" y2="410.0" stroke-width="0.7"/>
<line x1="560.8" y1="383.0" x2="568.5" y2="383.0" stroke-width="0.7"/>
<path d="M568.5 383.0 L564.3 384.1 L564.3 381.9 Z" fill="#333335" stroke="none"/>
<line x1="590.8" y1="383.0" x2="582.1" y2="383.0" stroke-width="0.7"/>
<path d="M582.1 383.0 L586.3 381.9 L586.3 384.1 Z" fill="#333335" stroke="none"/>
<line x1="536.7" y1="388.2" x2="545.4" y2="388.2" stroke-width="0.7"/>
<path d="M545.4 388.2 L541.2 389.3 L541.2 387.1 Z" fill="#333335" stroke="none"/>
<line x1="560.0" y1="388.2" x2="552.5" y2="388.2" stroke-width="0.7"/>
<path d="M552.5 388.2 L556.7 387.1 L556.7 389.3 Z" fill="#333335" stroke="none"/>
<line x1="536.7" y1="401.7" x2="545.4" y2="401.7" stroke-width="0.7"/>
<path d="M545.4 401.7 L541.2 402.8 L541.2 400.6 Z" fill="#333335" stroke="none"/>
<line x1="592.7" y1="401.7" x2="582.1" y2="401.7" stroke-width="0.7"/>
<path d="M582.1 401.7 L586.3 400.6 L586.3 402.8 Z" fill="#333335" stroke="none"/>
<text x="523.4" y="386.5" font-size="9.85" text-anchor="middle" font-weight="normal" stroke="none">(0.80)</text>
<text x="525.0" y="396.5" font-size="9.85" text-anchor="middle" font-weight="normal" stroke="none">.031</text>
<text x="603.8" y="379.5" font-size="9.85" text-anchor="middle" font-weight="normal" stroke="none">(1.50)</text>
<text x="605.0" y="389.3" font-size="9.85" text-anchor="middle" font-weight="normal" stroke="none">.059</text>
<text x="563.4" y="401.5" font-size="9.85" text-anchor="middle" font-weight="normal" stroke="none">(3.90)</text>
<text x="563.4" y="411.7" font-size="9.85" text-anchor="middle" font-weight="normal" stroke="none">.154</text>
<line x1="43.9" y1="649.3" x2="43.9" y2="688.0" stroke-width="0.7"/>
<line x1="194.5" y1="649.3" x2="194.5" y2="687.8" stroke-width="0.7"/>
<line x1="84.0" y1="655.2" x2="43.9" y2="655.2" stroke-width="0.7"/>
<path d="M43.9 655.2 L48.1 654.1 L48.1 656.3 Z" fill="#333335" stroke="none"/>
<line x1="159.0" y1="655.2" x2="194.5" y2="655.2" stroke-width="0.7"/>
<path d="M194.5 655.2 L190.3 656.3 L190.3 654.1 Z" fill="#333335" stroke="none"/>
<text x="121.5" y="658.3" font-size="9.05" text-anchor="middle" font-weight="normal" stroke="none">No. of positions x</text>
<text x="122.0" y="669.2" font-size="9.05" text-anchor="middle" font-weight="normal" stroke="none">(1.00) .03937 + (9.00) .354</text>
<rect x="90.5" y="676.0" width="57.0" height="16.1" fill="#fff" stroke-width="0.8"/>
<path d="M96.4 692.1 L96.4 673.8 Q97.7 671.6 99.0 673.8 L99.0 692.1" fill="#fff" stroke-width="0.8"/>
<line x1="94.3" y1="676.0" x2="94.3" y2="692.1" stroke-width="0.7"/>
<line x1="100.7" y1="676.0" x2="100.7" y2="692.1" stroke-width="0.7"/>
<path d="M107.2 692.1 L107.2 673.8 Q108.5 671.6 109.8 673.8 L109.8 692.1" fill="#fff" stroke-width="0.8"/>
<line x1="105.1" y1="676.0" x2="105.1" y2="692.1" stroke-width="0.7"/>
<line x1="111.5" y1="676.0" x2="111.5" y2="692.1" stroke-width="0.7"/>
<path d="M117.9 692.1 L117.9 673.8 Q119.2 671.6 120.5 673.8 L120.5 692.1" fill="#fff" stroke-width="0.8"/>
<line x1="115.8" y1="676.0" x2="115.8" y2="692.1" stroke-width="0.7"/>
<line x1="122.2" y1="676.0" x2="122.2" y2="692.1" stroke-width="0.7"/>
<path d="M128.6 692.1 L128.6 673.8 Q129.9 671.6 131.2 673.8 L131.2 692.1" fill="#fff" stroke-width="0.8"/>
<line x1="126.5" y1="676.0" x2="126.5" y2="692.1" stroke-width="0.7"/>
<line x1="132.9" y1="676.0" x2="132.9" y2="692.1" stroke-width="0.7"/>
<rect x="128.9" y="674.5" width="2" height="17" fill="#9a9a9c" stroke="none"/>
<path d="M139.2 692.1 L139.2 673.8 Q140.5 671.6 141.8 673.8 L141.8 692.1" fill="#fff" stroke-width="0.8"/>
<line x1="137.1" y1="676.0" x2="137.1" y2="692.1" stroke-width="0.7"/>
<line x1="143.5" y1="676.0" x2="143.5" y2="692.1" stroke-width="0.7"/>
<rect x="139.5" y="674.5" width="2" height="17" fill="#9a9a9c" stroke="none"/>
<path d="M54.6 752.4 L54.6 768.5 Q54.6 773.8 60 773.8 L76.3 773.8 L76.3 752.4 Z" fill="#fff" stroke-width="0.8"/>
<path d="M183.5 752.4 L183.5 768.5 Q183.5 773.8 178 773.8 L161 773.8 L161 752.4 Z" fill="#fff" stroke-width="0.8"/>
<rect x="43.9" y="694.5" width="150.6" height="57.9" fill="#fff" stroke-width="0.8"/>
<rect x="76.3" y="692.1" width="86.4" height="60.3" fill="#fff" stroke-width="0.8"/>
<line x1="60.4" y1="694.5" x2="60.4" y2="752.4" stroke-width="0.7"/>
<line x1="178.6" y1="694.5" x2="178.6" y2="752.4" stroke-width="0.7"/>
<rect x="46.3" y="731.3" width="7.3" height="20.1" fill="#fff" stroke-width="0.9"/>
<rect x="48.1" y="733.4" width="3.7" height="16.2" fill="#fff" stroke-width="0.8"/>
<rect x="48.9" y="734.5" width="2.1" height="6.5" fill="#333335" stroke="none"/>
<rect x="51.1" y="739.8" width="5.5" height="3.6" fill="#fff" stroke-width="0.8"/>
<rect x="184.6" y="731.3" width="7.4" height="20.1" fill="#fff" stroke-width="0.9"/>
<rect x="186.4" y="733.4" width="3.8" height="16.2" fill="#fff" stroke-width="0.8"/>
<rect x="187.2" y="734.5" width="2.2" height="6.5" fill="#333335" stroke="none"/>
<rect x="181.6" y="739.8" width="5.5" height="3.6" fill="#fff" stroke-width="0.8"/>
<path d="M136.0 752.4 L140.2 743.0 L144.6 752.4" fill="#fff" stroke-width="0.8"/>
<line x1="166.2" y1="693.0" x2="219.7" y2="693.0" stroke-width="0.7"/>
<line x1="186.4" y1="773.8" x2="219.7" y2="773.8" stroke-width="0.7"/>
<line x1="211.6" y1="716.5" x2="211.6" y2="693.0" stroke-width="0.7"/>
<path d="M211.6 693.0 L212.7 697.2 L210.5 697.2 Z" fill="#333335" stroke="none"/>
<line x1="211.6" y1="740.0" x2="211.6" y2="773.8" stroke-width="0.7"/>
<path d="M211.6 773.8 L210.5 769.6 L212.7 769.6 Z" fill="#333335" stroke="none"/>
<text x="211.0" y="726.4" font-size="9.05" text-anchor="middle" font-weight="normal" stroke="none">(7.55)</text>
<text x="210.6" y="736.5" font-size="9.05" text-anchor="middle" font-weight="normal" stroke="none">.297</text>
<text x="90.8" y="788.4" font-size="9.05" text-anchor="middle" font-weight="normal" stroke="none">(1.00) .03937</text>
<line x1="119.8" y1="785.2" x2="129.9" y2="785.2" stroke-width="0.7"/>
<path d="M129.9 785.2 L125.7 786.3 L125.7 784.1 Z" fill="#333335" stroke="none"/>
<line x1="149.8" y1="785.2" x2="140.6" y2="785.2" stroke-width="0.7"/>
<path d="M140.6 785.2 L144.8 784.1 L144.8 786.3 Z" fill="#333335" stroke="none"/>
<line x1="129.9" y1="779.5" x2="129.9" y2="801.0" stroke-width="0.7"/>
<line x1="140.6" y1="779.5" x2="140.6" y2="801.0" stroke-width="0.7"/>
<line x1="136.0" y1="794.0" x2="144.0" y2="794.0" stroke-width="1.2"/>
<rect x="48.9" y="857.0" width="2.0" height="21.4" fill="#fff" stroke-width="0.7"/>
<circle cx="49.9" cy="879" r="1" fill="#333335" stroke="none"/>
<rect x="188.3" y="857.0" width="2.0" height="21.4" fill="#fff" stroke-width="0.7"/>
<circle cx="189.3" cy="879" r="1" fill="#333335" stroke="none"/>
<rect x="83.0" y="862.0" width="8.2" height="15.6" fill="#fff" stroke-width="0.8" rx="1.5"/>
<rect x="146.8" y="862.0" width="8.2" height="15.6" fill="#fff" stroke-width="0.8" rx="1.5"/>
<path d="M76.9 793.6 L76.9 796.4 L60.1 796.4 L60.1 804.1 L43.5 804.1 L43.5 857.3 L77.2 857.3 L77.2 862.3 L89.7 862.3 L89.7 864.6 L148.3 864.6 L148.3 862.3 L160.8 862.3 L160.8 857.3 L194.5 857.3 L194.5 804.1 L177.9 804.1 L177.9 796.4 L161.1 796.4 L161.1 793.6 Z" fill="#fff" stroke-width="0.8"/>
<line x1="45.2" y1="819.0" x2="45.2" y2="835.2" stroke-width="0.6"/>
<line x1="192.8" y1="819.0" x2="192.8" y2="835.2" stroke-width="0.6"/>
<path d="M88.4 798.6 L78.6 806.4 L53.9 806.4 L53.9 848.2 L77.2 848.2 L77.2 845.2 L88.4 845.2 L88.4 856.2 L149.6 856.2 L149.6 845.2 L160.8 845.2 L160.8 848.2 L184.1 848.2 L184.1 806.4 L159.4 806.4 L149.6 798.6 Z" fill="#fff" stroke-width="1.15"/>
<line x1="88.4" y1="856.6" x2="149.6" y2="856.6" stroke-width="1.6"/>
<line x1="81.0" y1="808.8" x2="89.4" y2="801.2" stroke-width="0.7"/>
<line x1="89.4" y1="801.2" x2="119.0" y2="801.2" stroke-width="0.7"/>
<rect x="65.4" y="809.4" width="11.8" height="35.9" fill="#fff" stroke-width="1.0"/>
<rect x="65.9" y="810" width="2.7" height="34.8" fill="#8a8a8c" stroke="none"/>
<line x1="68.8" y1="812.2" x2="77.2" y2="812.2" stroke-width="0.6"/>
<line x1="68.8" y1="842.6" x2="77.2" y2="842.6" stroke-width="0.6"/>
<line x1="68.8" y1="812.2" x2="68.8" y2="842.6" stroke-width="0.6"/>
<line x1="157.0" y1="808.8" x2="148.6" y2="801.2" stroke-width="0.7"/>
<line x1="148.6" y1="801.2" x2="119.0" y2="801.2" stroke-width="0.7"/>
<rect x="160.8" y="809.4" width="11.8" height="35.9" fill="#fff" stroke-width="1.0"/>
<rect x="169.4" y="810" width="2.7" height="34.8" fill="#8a8a8c" stroke="none"/>
<line x1="169.2" y1="812.2" x2="160.8" y2="812.2" stroke-width="0.6"/>
<line x1="169.2" y1="842.6" x2="160.8" y2="842.6" stroke-width="0.6"/>
<line x1="169.2" y1="812.2" x2="169.2" y2="842.6" stroke-width="0.6"/>
<rect x="94.8" y="801.6" width="5.8" height="4.0" fill="#fff" stroke-width="1.4"/>
<rect x="94.8" y="823.8" width="5.8" height="6.8" fill="#fff" stroke-width="1.5"/>
<rect x="94.8" y="848.8" width="5.8" height="4.4" fill="#fff" stroke-width="1.4"/>
<rect x="96.1" y="809.8" width="3.2" height="9.8" fill="#333335" stroke="none"/>
<rect x="94.0" y="812.8" width="7.4" height="3.8" fill="#333335" stroke="none"/>
<rect x="97.2" y="811.1" width="1" height="3" fill="#fff" stroke="none"/>
<rect x="97.2" y="816.3" width="1" height="2.2" fill="#fff" stroke="none"/>
<rect x="96.1" y="835.2" width="3.2" height="9.8" fill="#333335" stroke="none"/>
<rect x="94.0" y="838.2" width="7.4" height="3.8" fill="#333335" stroke="none"/>
<rect x="97.2" y="836.5" width="1" height="3" fill="#fff" stroke="none"/>
<rect x="97.2" y="841.7" width="1" height="2.2" fill="#fff" stroke="none"/>
<rect x="96.8" y="861.4" width="1.8" height="4.2" fill="#fff" stroke-width="0.6"/>
<rect x="105.6" y="801.6" width="5.8" height="4.0" fill="#fff" stroke-width="1.4"/>
<rect x="105.6" y="823.8" width="5.8" height="6.8" fill="#fff" stroke-width="1.5"/>
<rect x="105.6" y="848.8" width="5.8" height="4.4" fill="#fff" stroke-width="1.4"/>
<rect x="106.9" y="809.8" width="3.2" height="9.8" fill="#333335" stroke="none"/>
<rect x="104.8" y="812.8" width="7.4" height="3.8" fill="#333335" stroke="none"/>
<rect x="108.0" y="811.1" width="1" height="3" fill="#fff" stroke="none"/>
<rect x="108.0" y="816.3" width="1" height="2.2" fill="#fff" stroke="none"/>
<rect x="106.9" y="835.2" width="3.2" height="9.8" fill="#333335" stroke="none"/>
<rect x="104.8" y="838.2" width="7.4" height="3.8" fill="#333335" stroke="none"/>
<rect x="108.0" y="836.5" width="1" height="3" fill="#fff" stroke="none"/>
<rect x="108.0" y="841.7" width="1" height="2.2" fill="#fff" stroke="none"/>
<rect x="107.6" y="861.4" width="1.8" height="4.2" fill="#fff" stroke-width="0.6"/>
<rect x="116.3" y="801.6" width="5.8" height="4.0" fill="#fff" stroke-width="1.4"/>
<rect x="116.3" y="823.8" width="5.8" height="6.8" fill="#fff" stroke-width="1.5"/>
<rect x="116.3" y="848.8" width="5.8" height="4.4" fill="#fff" stroke-width="1.4"/>
<rect x="117.6" y="809.8" width="3.2" height="9.8" fill="#333335" stroke="none"/>
<rect x="115.5" y="812.8" width="7.4" height="3.8" fill="#333335" stroke="none"/>
<rect x="118.7" y="811.1" width="1" height="3" fill="#fff" stroke="none"/>
<rect x="118.7" y="816.3" width="1" height="2.2" fill="#fff" stroke="none"/>
<rect x="117.6" y="835.2" width="3.2" height="9.8" fill="#333335" stroke="none"/>
<rect x="115.5" y="838.2" width="7.4" height="3.8" fill="#333335" stroke="none"/>
<rect x="118.7" y="836.5" width="1" height="3" fill="#fff" stroke="none"/>
<rect x="118.7" y="841.7" width="1" height="2.2" fill="#fff" stroke="none"/>
<rect x="118.3" y="861.4" width="1.8" height="4.2" fill="#fff" stroke-width="0.6"/>
<rect x="127.0" y="801.6" width="5.8" height="4.0" fill="#fff" stroke-width="1.4"/>
<rect x="127.0" y="823.8" width="5.8" height="6.8" fill="#fff" stroke-width="1.5"/>
<rect x="127.0" y="848.8" width="5.8" height="4.4" fill="#fff" stroke-width="1.4"/>
<rect x="128.3" y="809.8" width="3.2" height="9.8" fill="#333335" stroke="none"/>
<rect x="126.2" y="812.8" width="7.4" height="3.8" fill="#333335" stroke="none"/>
<rect x="129.4" y="811.1" width="1" height="3" fill="#fff" stroke="none"/>
<rect x="129.4" y="816.3" width="1" height="2.2" fill="#fff" stroke="none"/>
<rect x="128.3" y="835.2" width="3.2" height="9.8" fill="#333335" stroke="none"/>
<rect x="126.2" y="838.2" width="7.4" height="3.8" fill="#333335" stroke="none"/>
<rect x="129.4" y="836.5" width="1" height="3" fill="#fff" stroke="none"/>
<rect x="129.4" y="841.7" width="1" height="2.2" fill="#fff" stroke="none"/>
<rect x="129.0" y="861.4" width="1.8" height="4.2" fill="#fff" stroke-width="0.6"/>
<rect x="137.7" y="801.6" width="5.8" height="4.0" fill="#fff" stroke-width="1.4"/>
<rect x="137.7" y="823.8" width="5.8" height="6.8" fill="#fff" stroke-width="1.5"/>
<rect x="137.7" y="848.8" width="5.8" height="4.4" fill="#fff" stroke-width="1.4"/>
<rect x="139.0" y="809.8" width="3.2" height="9.8" fill="#333335" stroke="none"/>
<rect x="136.9" y="812.8" width="7.4" height="3.8" fill="#333335" stroke="none"/>
<rect x="140.1" y="811.1" width="1" height="3" fill="#fff" stroke="none"/>
<rect x="140.1" y="816.3" width="1" height="2.2" fill="#fff" stroke="none"/>
<rect x="139.0" y="835.2" width="3.2" height="9.8" fill="#333335" stroke="none"/>
<rect x="136.9" y="838.2" width="7.4" height="3.8" fill="#333335" stroke="none"/>
<rect x="140.1" y="836.5" width="1" height="3" fill="#fff" stroke="none"/>
<rect x="140.1" y="841.7" width="1" height="2.2" fill="#fff" stroke="none"/>
<rect x="139.7" y="861.4" width="1.8" height="4.2" fill="#fff" stroke-width="0.6"/>
<line x1="167.0" y1="792.8" x2="221.0" y2="792.8" stroke-width="0.7"/>
<line x1="167.0" y1="864.5" x2="221.0" y2="864.5" stroke-width="0.7"/>
<line x1="211.5" y1="818.0" x2="211.5" y2="792.8" stroke-width="0.7"/>
<path d="M211.5 792.8 L212.6 797.0 L210.4 797.0 Z" fill="#333335" stroke="none"/>
<line x1="211.5" y1="841.0" x2="211.5" y2="864.5" stroke-width="0.7"/>
<path d="M211.5 864.5 L210.4 860.3 L212.6 860.3 Z" fill="#333335" stroke="none"/>
<text x="209.3" y="827.8" font-size="9.05" text-anchor="middle" font-weight="normal" stroke="none">(6.70)</text>
<text x="209.0" y="838.2" font-size="9.05" text-anchor="middle" font-weight="normal" stroke="none">.264</text>
<text x="26.6" y="869.3" font-size="9.05" text-anchor="middle" font-weight="normal" stroke="none">(0.30)</text>
<text x="27.6" y="879.0" font-size="9.05" text-anchor="middle" font-weight="normal" stroke="none">.012</text>
<line x1="38.6" y1="872.2" x2="48.8" y2="872.2" stroke-width="0.7"/>
<path d="M48.8 872.2 L44.6 873.3 L44.6 871.1 Z" fill="#333335" stroke="none"/>
<line x1="60.8" y1="872.2" x2="51.0" y2="872.2" stroke-width="0.7"/>
<path d="M51.0 872.2 L55.2 871.1 L55.2 873.3 Z" fill="#333335" stroke="none"/>
<text x="108.4" y="874.0" font-size="9.05" text-anchor="middle" font-weight="normal" stroke="none">(0.20)</text>
<text x="110.4" y="883.8" font-size="9.05" text-anchor="middle" font-weight="normal" stroke="none">.008</text>
<line x1="129.0" y1="864.4" x2="129.0" y2="882.6" stroke-width="0.7"/>
<line x1="131.4" y1="864.4" x2="131.4" y2="882.6" stroke-width="0.7"/>
<line x1="120.4" y1="874.7" x2="129.0" y2="874.7" stroke-width="0.7"/>
<path d="M129.0 874.7 L124.8 875.8 L124.8 873.6 Z" fill="#333335" stroke="none"/>
<line x1="139.6" y1="874.7" x2="131.4" y2="874.7" stroke-width="0.7"/>
<path d="M131.4 874.7 L135.6 873.6 L135.6 875.8 Z" fill="#333335" stroke="none"/>
<text x="119.0" y="894.7" font-size="9.05" text-anchor="middle" font-weight="normal" stroke="none">No. of positions x</text>
<text x="120.8" y="904.2" font-size="9.05" text-anchor="middle" font-weight="normal" stroke="none">(1.00) .03937 + (7.85) .309</text>
<line x1="49.9" y1="881.0" x2="49.9" y2="904.8" stroke-width="0.7"/>
<line x1="189.3" y1="881.0" x2="189.3" y2="904.8" stroke-width="0.7"/>
<line x1="40.1" y1="900.1" x2="49.9" y2="900.1" stroke-width="0.7"/>
<path d="M49.9 900.1 L45.7 901.2 L45.7 899.0 Z" fill="#333335" stroke="none"/>
<line x1="198.0" y1="900.1" x2="189.3" y2="900.1" stroke-width="0.7"/>
<path d="M189.3 900.1 L193.5 899.0 L193.5 901.2 Z" fill="#333335" stroke="none"/>
<text x="213.0" y="922.4" font-size="11" text-anchor="start" font-weight="bold" stroke="none" fill="#2b2b2d">&ndash;DH</text>
<line x1="228.3" y1="806.2" x2="249.0" y2="806.2" stroke-width="0.7"/>
<line x1="228.3" y1="848.0" x2="249.0" y2="848.0" stroke-width="0.7"/>
<line x1="240.3" y1="817.5" x2="240.3" y2="806.2" stroke-width="0.7"/>
<path d="M240.3 806.2 L241.4 810.4 L239.2 810.4 Z" fill="#333335" stroke="none"/>
<line x1="240.3" y1="837.5" x2="240.3" y2="848.0" stroke-width="0.7"/>
<path d="M240.3 848.0 L239.2 843.8 L241.4 843.8 Z" fill="#333335" stroke="none"/>
<text x="240.0" y="826.6" font-size="9.05" text-anchor="middle" font-weight="normal" stroke="none">(3.95)</text>
<text x="240.0" y="835.6" font-size="9.05" text-anchor="middle" font-weight="normal" stroke="none">.156</text>
<path d="M334.4 810.1 L353.3 810.1 L353.3 861.0 L351.5 861.0 L351.5 864.3 L345.4 864.3 L345.4 833.3 L334.4 833.3 Z" fill="#fff" stroke-width="0.8"/>
<line x1="334.4" y1="812.6" x2="351.2" y2="812.6" stroke-width="0.7"/>
<line x1="351.2" y1="812.6" x2="351.2" y2="832.6" stroke-width="0.7"/>
<rect x="353.2" y="817.8" width="1.3" height="2.6" fill="#333335" stroke="none"/>
<rect x="353.2" y="830.0" width="1.3" height="2.6" fill="#333335" stroke="none"/>
<path d="M334.4 836.0 L336.4 836.0 L337.4 838.0 L337.4 864.3 L328.4 864.3 L328.4 860.2 L334.4 860.2 Z" fill="#fff" stroke-width="0.8"/>
<rect x="337.0" y="839.4" width="1.2" height="2.6" fill="#333335" stroke="none"/>
<rect x="337.0" y="851.6" width="1.2" height="2.6" fill="#333335" stroke="none"/>
<rect x="253.5" y="806.2" width="20.9" height="41.4" fill="#fff" stroke-width="0.8"/>
<rect x="283.3" y="856.7" width="5.1" height="23.5" fill="#fff" stroke-width="0.8" rx="1.4"/>
<line x1="284.0" y1="879.0" x2="287.8" y2="879.0" stroke-width="1.2"/>
<rect x="306.8" y="860.2" width="9.9" height="16.9" fill="#fff" stroke-width="0.8" rx="1.6"/>
<path d="M274.4 860.2 L274.4 862.0 L278.8 862.0 L278.8 864.3 L295.3 864.3 L295.3 860.2 Z" fill="#fff" stroke-width="0.8"/>
<rect x="274.4" y="793.3" width="60.0" height="66.9" fill="#fff" stroke-width="0.8"/>
<line x1="274.4" y1="797.4" x2="332.6" y2="797.4" stroke-width="0.7"/>
<line x1="332.6" y1="797.4" x2="332.6" y2="857.4" stroke-width="0.7"/>
<line x1="274.4" y1="857.4" x2="332.6" y2="857.4" stroke-width="0.7"/>
<line x1="274.4" y1="804.3" x2="332.6" y2="804.3" stroke-width="0.9"/>
<line x1="422.8" y1="667.9" x2="422.8" y2="690.5" stroke-width="0.7"/>
<line x1="556.3" y1="667.9" x2="556.3" y2="690.5" stroke-width="0.7"/>
<line x1="451.0" y1="673.2" x2="422.8" y2="673.2" stroke-width="0.7"/>
<path d="M422.8 673.2 L427.0 672.1 L427.0 674.3 Z" fill="#333335" stroke="none"/>
<line x1="525.0" y1="673.2" x2="556.3" y2="673.2" stroke-width="0.7"/>
<path d="M556.3 673.2 L552.1 674.3 L552.1 672.1 Z" fill="#333335" stroke="none"/>
<text x="488.0" y="676.3" font-size="9.05" text-anchor="middle" font-weight="normal" stroke="none">No. of positions x</text>
<text x="489.0" y="686.2" font-size="9.05" text-anchor="middle" font-weight="normal" stroke="none">(1.00) .03937 + (7.10) .280</text>
<rect x="466.2" y="688.4" width="2.4" height="4.9" fill="#fff" stroke-width="0.7"/>
<rect x="466.2" y="761.1" width="2.4" height="5.5" fill="#fff" stroke-width="0.7"/>
<rect x="477.2" y="688.4" width="2.4" height="4.9" fill="#fff" stroke-width="0.7"/>
<rect x="477.2" y="761.1" width="2.4" height="5.5" fill="#fff" stroke-width="0.7"/>
<rect x="488.3" y="688.4" width="2.4" height="4.9" fill="#fff" stroke-width="0.7"/>
<rect x="488.3" y="761.1" width="2.4" height="5.5" fill="#fff" stroke-width="0.7"/>
<rect x="499.3" y="688.4" width="2.4" height="4.9" fill="#fff" stroke-width="0.7"/>
<rect x="499.3" y="761.1" width="2.4" height="5.5" fill="#fff" stroke-width="0.7"/>
<rect x="510.4" y="688.4" width="2.4" height="4.9" fill="#fff" stroke-width="0.7"/>
<rect x="510.4" y="761.1" width="2.4" height="5.5" fill="#fff" stroke-width="0.7"/>
<path d="M445.3 693.3 L445.3 696.0 L422.5 696.0 L422.5 749.6 L432.7 758.4 L445.3 758.4 L445.3 761.1 L533.8 761.1 L533.8 758.4 L546.4 758.4 L556.6 749.6 L556.6 696.0 L533.8 696.0 L533.8 693.3 Z" fill="#fff" stroke-width="0.8"/>
<path d="M457.5 698.8 L457.5 710.9 L447.0 710.9 L447.0 743.5 L452.0 743.5 L452.0 748.0 L459.1 755.1 L520.0 755.1 L527.1 748.0 L527.1 743.5 L532.1 743.5 L532.1 710.9 L521.6 710.9 L521.6 698.8 Z" fill="#fff" stroke-width="1.2"/>
<line x1="459.1" y1="755.6" x2="520.0" y2="755.6" stroke-width="1.8"/>
<line x1="461.3" y1="761.1" x2="472.4" y2="761.1" stroke-width="1.4"/>
<line x1="422.5" y1="705.4" x2="447.0" y2="705.4" stroke-width="0.7"/>
<line x1="422.5" y1="749.0" x2="434.6" y2="749.0" stroke-width="0.7"/>
<line x1="447.0" y1="705.4" x2="447.0" y2="710.9" stroke-width="0.7"/>
<line x1="434.6" y1="749.0" x2="447.0" y2="749.0" stroke-width="0.7"/>
<line x1="447.0" y1="746.2" x2="447.0" y2="749.0" stroke-width="0.7"/>
<line x1="447.0" y1="749.0" x2="457.0" y2="759.5" stroke-width="0.7"/>
<rect x="434.6" y="709.3" width="12.4" height="36.9" fill="#fff" stroke-width="0.9"/>
<rect x="435.0" y="709.8" width="2.4" height="36" fill="#8a8a8c" stroke="none"/>
<line x1="437.6" y1="711.3" x2="447.0" y2="711.3" stroke-width="0.6"/>
<line x1="437.6" y1="743.5" x2="447.0" y2="743.5" stroke-width="0.6"/>
<line x1="437.6" y1="711.3" x2="437.6" y2="743.5" stroke-width="0.6"/>
<rect x="450.1" y="715.3" width="7.4" height="24.3" fill="#333335" stroke="none"/>
<rect x="452.3" y="722.5" width="3.4" height="10" fill="#bdbdbf" stroke="none"/>
<rect x="452.5" y="717.3" width="2.4" height="2.6" fill="#fff" stroke="none"/>
<rect x="452.5" y="735" width="2.4" height="2.6" fill="#fff" stroke="none"/>
<line x1="556.6" y1="705.4" x2="532.1" y2="705.4" stroke-width="0.7"/>
<line x1="556.6" y1="749.0" x2="544.5" y2="749.0" stroke-width="0.7"/>
<line x1="532.1" y1="705.4" x2="532.1" y2="710.9" stroke-width="0.7"/>
<line x1="544.5" y1="749.0" x2="532.1" y2="749.0" stroke-width="0.7"/>
<line x1="532.1" y1="746.2" x2="532.1" y2="749.0" stroke-width="0.7"/>
<line x1="532.1" y1="749.0" x2="522.1" y2="759.5" stroke-width="0.7"/>
<rect x="532.1" y="709.3" width="12.4" height="36.9" fill="#fff" stroke-width="0.9"/>
<rect x="541.7" y="709.8" width="2.4" height="36" fill="#8a8a8c" stroke="none"/>
<line x1="541.5" y1="711.3" x2="532.1" y2="711.3" stroke-width="0.6"/>
<line x1="541.5" y1="743.5" x2="532.1" y2="743.5" stroke-width="0.6"/>
<line x1="541.5" y1="711.3" x2="541.5" y2="743.5" stroke-width="0.6"/>
<rect x="521.6" y="715.3" width="7.4" height="24.3" fill="#333335" stroke="none"/>
<rect x="523.8" y="722.5" width="3.4" height="10" fill="#bdbdbf" stroke="none"/>
<rect x="524.0" y="717.3" width="2.4" height="2.6" fill="#fff" stroke="none"/>
<rect x="524.0" y="735" width="2.4" height="2.6" fill="#fff" stroke="none"/>
<rect x="463.5" y="700.6" width="7.8" height="9.0" fill="#fff" stroke-width="1.1"/>
<rect x="463.5" y="745.4" width="7.8" height="9.4" fill="#fff" stroke-width="1.1"/>
<rect x="465.7" y="714.2" width="3.4" height="5.6" fill="#333335" stroke="none"/>
<rect x="465.7" y="735.2" width="3.4" height="5.5" fill="#333335" stroke="none"/>
<rect x="474.5" y="700.6" width="7.8" height="9.0" fill="#fff" stroke-width="1.1"/>
<rect x="474.5" y="745.4" width="7.8" height="9.4" fill="#fff" stroke-width="1.1"/>
<rect x="476.7" y="714.2" width="3.4" height="5.6" fill="#333335" stroke="none"/>
<rect x="476.7" y="735.2" width="3.4" height="5.5" fill="#333335" stroke="none"/>
<rect x="485.6" y="700.6" width="7.8" height="9.0" fill="#fff" stroke-width="1.1"/>
<rect x="485.6" y="745.4" width="7.8" height="9.4" fill="#fff" stroke-width="1.1"/>
<rect x="487.8" y="714.2" width="3.4" height="5.6" fill="#333335" stroke="none"/>
<rect x="487.8" y="735.2" width="3.4" height="5.5" fill="#333335" stroke="none"/>
<rect x="496.6" y="700.6" width="7.8" height="9.0" fill="#fff" stroke-width="1.1"/>
<rect x="496.6" y="745.4" width="7.8" height="9.4" fill="#fff" stroke-width="1.1"/>
<rect x="498.8" y="714.2" width="3.4" height="5.6" fill="#333335" stroke="none"/>
<rect x="498.8" y="735.2" width="3.4" height="5.5" fill="#333335" stroke="none"/>
<rect x="507.7" y="700.6" width="7.8" height="9.0" fill="#fff" stroke-width="1.1"/>
<rect x="507.7" y="745.4" width="7.8" height="9.4" fill="#fff" stroke-width="1.1"/>
<rect x="509.9" y="714.2" width="3.4" height="5.6" fill="#333335" stroke="none"/>
<rect x="509.9" y="735.2" width="3.4" height="5.5" fill="#333335" stroke="none"/>
<line x1="395.5" y1="693.3" x2="441.0" y2="693.3" stroke-width="0.7"/>
<line x1="395.5" y1="761.1" x2="441.0" y2="761.1" stroke-width="0.7"/>
<line x1="410.4" y1="719.0" x2="410.4" y2="693.3" stroke-width="0.7"/>
<path d="M410.4 693.3 L411.5 697.5 L409.3 697.5 Z" fill="#333335" stroke="none"/>
<line x1="410.4" y1="741.0" x2="410.4" y2="761.1" stroke-width="0.7"/>
<path d="M410.4 761.1 L409.3 756.9 L411.5 756.9 Z" fill="#333335" stroke="none"/>
<text x="408.8" y="728.8" font-size="9.05" text-anchor="middle" font-weight="normal" stroke="none">(6.25)</text>
<text x="408.4" y="738.6" font-size="9.05" text-anchor="middle" font-weight="normal" stroke="none">.246</text>
<line x1="500.5" y1="741.0" x2="500.5" y2="784.5" stroke-width="0.7"/>
<line x1="511.6" y1="741.0" x2="511.6" y2="784.5" stroke-width="0.7"/>
<line x1="491.0" y1="774.0" x2="500.5" y2="774.0" stroke-width="0.7"/>
<path d="M500.5 774.0 L496.3 775.1 L496.3 772.9 Z" fill="#333335" stroke="none"/>
<line x1="519.6" y1="774.0" x2="511.6" y2="774.0" stroke-width="0.7"/>
<path d="M511.6 774.0 L515.8 772.9 L515.8 775.1 Z" fill="#333335" stroke="none"/>
<text x="477.5" y="775.0" font-size="9.05" text-anchor="middle" font-weight="normal" stroke="none">(1.00)</text>
<text x="478.0" y="784.4" font-size="9.05" text-anchor="middle" font-weight="normal" stroke="none">.03937</text>
<rect x="432.4" y="857.0" width="9.2" height="18.7" fill="#fff" stroke-width="0.8" rx="1.5"/>
<rect x="538.1" y="857.0" width="7.4" height="18.7" fill="#fff" stroke-width="0.8" rx="1.5"/>
<rect x="451.2" y="859.0" width="4.1" height="20.3" fill="#fff" stroke-width="0.8"/>
<rect x="522.9" y="859.0" width="4.1" height="20.3" fill="#fff" stroke-width="0.8"/>
<line x1="453.3" y1="879.3" x2="453.3" y2="914.3" stroke-width="0.7"/>
<line x1="525.0" y1="886.5" x2="525.0" y2="914.3" stroke-width="0.7"/>
<path d="M425 810.3 L425 796 Q425.6 789.3 432 789.3 L447.9 789.3 L447.9 810.3 Z" fill="#fff" stroke-width="0.8"/>
<path d="M556 810.3 L556 796 Q555.4 789.3 549 789.3 L531.2 789.3 L531.2 810.3 Z" fill="#fff" stroke-width="0.8"/>
<rect x="422.2" y="810.3" width="135.2" height="46.9" fill="#fff" stroke-width="0.8"/>
<rect x="445.1" y="810.3" width="88.9" height="48.8" fill="#fff" stroke-width="0.8"/>
<line x1="431.9" y1="810.3" x2="431.9" y2="857.2" stroke-width="0.7"/>
<path d="M462.2 810.3 L467.8 819.4 L473.3 810.3" fill="#fff" stroke-width="0.8"/>
<rect x="465.5" y="854.6" width="2.8" height="4.5" fill="#fff" stroke-width="0.8"/>
<rect x="465.1" y="856.8" width="3.6" height="1.6" fill="#333335" stroke="none"/>
<rect x="476.8" y="854.6" width="2.8" height="4.5" fill="#fff" stroke-width="0.8"/>
<rect x="476.4" y="856.8" width="3.6" height="1.6" fill="#333335" stroke="none"/>
<rect x="488.0" y="854.6" width="2.8" height="4.5" fill="#fff" stroke-width="0.8"/>
<rect x="487.6" y="856.8" width="3.6" height="1.6" fill="#333335" stroke="none"/>
<rect x="499.4" y="854.6" width="2.8" height="4.5" fill="#fff" stroke-width="0.8"/>
<rect x="499.0" y="856.8" width="3.6" height="1.6" fill="#333335" stroke="none"/>
<rect x="510.5" y="854.6" width="2.8" height="4.5" fill="#fff" stroke-width="0.8"/>
<rect x="510.1" y="856.8" width="3.6" height="1.6" fill="#333335" stroke="none"/>
<line x1="398.2" y1="810.3" x2="420.9" y2="810.3" stroke-width="0.7"/>
<line x1="398.2" y1="857.2" x2="420.9" y2="857.2" stroke-width="0.7"/>
<line x1="409.8" y1="822.0" x2="409.8" y2="810.3" stroke-width="0.7"/>
<path d="M409.8 810.3 L410.9 814.5 L408.7 814.5 Z" fill="#333335" stroke="none"/>
<line x1="409.8" y1="845.0" x2="409.8" y2="857.2" stroke-width="0.7"/>
<path d="M409.8 857.2 L408.7 853.0 L410.9 853.0 Z" fill="#333335" stroke="none"/>
<text x="408.0" y="831.6" font-size="9.05" text-anchor="middle" font-weight="normal" stroke="none">(4.50)</text>
<text x="408.0" y="842.4" font-size="9.05" text-anchor="middle" font-weight="normal" stroke="none">.177</text>
<line x1="558.2" y1="788.9" x2="583.6" y2="788.9" stroke-width="0.7"/>
<line x1="547.8" y1="863.8" x2="583.6" y2="863.8" stroke-width="0.7"/>
<line x1="572.6" y1="812.5" x2="572.6" y2="788.9" stroke-width="0.7"/>
<path d="M572.6 788.9 L573.7 793.1 L571.5 793.1 Z" fill="#333335" stroke="none"/>
<line x1="572.6" y1="835.0" x2="572.6" y2="863.8" stroke-width="0.7"/>
<path d="M572.6 863.8 L571.5 859.6 L573.7 859.6 Z" fill="#333335" stroke="none"/>
<text x="571.4" y="821.8" font-size="9.05" text-anchor="middle" font-weight="normal" stroke="none">(6.80)</text>
<text x="571.4" y="832.1" font-size="9.05" text-anchor="middle" font-weight="normal" stroke="none">.268</text>
<text x="410.6" y="867.0" font-size="9.05" text-anchor="middle" font-weight="normal" stroke="none">(0.80)</text>
<text x="411.6" y="876.7" font-size="9.05" text-anchor="middle" font-weight="normal" stroke="none">.031</text>
<text x="412.6" y="886.3" font-size="9.05" text-anchor="middle" font-weight="normal" stroke="none">DIA</text>
<line x1="423.4" y1="871.6" x2="432.4" y2="871.6" stroke-width="0.7"/>
<path d="M432.4 871.6 L428.2 872.7 L428.2 870.5 Z" fill="#333335" stroke="none"/>
<line x1="449.5" y1="871.6" x2="441.6" y2="871.6" stroke-width="0.7"/>
<path d="M441.6 871.6 L445.8 870.5 L445.8 872.7 Z" fill="#333335" stroke="none"/>
<text x="479.4" y="872.0" font-size="9.05" text-anchor="middle" font-weight="normal" stroke="none">(0.20) .008</text>
<line x1="502.6" y1="868.8" x2="509.8" y2="868.8" stroke-width="0.7"/>
<path d="M509.8 868.8 L505.6 869.9 L505.6 867.7 Z" fill="#333335" stroke="none"/>
<line x1="520.4" y1="868.8" x2="513.2" y2="868.8" stroke-width="0.7"/>
<path d="M513.2 868.8 L517.4 867.7 L517.4 869.9 Z" fill="#333335" stroke="none"/>
<line x1="509.8" y1="863.3" x2="509.8" y2="873.0" stroke-width="0.7"/>
<line x1="513.2" y1="863.3" x2="513.2" y2="873.0" stroke-width="0.7"/>
<text x="490.2" y="885.7" font-size="9.05" text-anchor="middle" font-weight="normal" stroke="none">(0.30) .012</text>
<line x1="513.6" y1="882.5" x2="522.9" y2="882.5" stroke-width="0.7"/>
<path d="M522.9 882.5 L518.7 883.6 L518.7 881.4 Z" fill="#333335" stroke="none"/>
<line x1="535.4" y1="882.5" x2="527.0" y2="882.5" stroke-width="0.7"/>
<path d="M527.0 882.5 L531.2 881.4 L531.2 883.6 Z" fill="#333335" stroke="none"/>
<line x1="522.9" y1="879.3" x2="522.9" y2="886.7" stroke-width="0.7"/>
<line x1="527.0" y1="879.3" x2="527.0" y2="886.7" stroke-width="0.7"/>
<text x="489.4" y="896.8" font-size="9.05" text-anchor="middle" font-weight="normal" stroke="none">No. of positions</text>
<text x="489.8" y="906.5" font-size="9.05" text-anchor="middle" font-weight="normal" stroke="none">x (1.00) .03937</text>
<text x="491.0" y="916.7" font-size="9.05" text-anchor="middle" font-weight="normal" stroke="none">+ (1.50) .059</text>
<line x1="445.1" y1="902.4" x2="453.3" y2="902.4" stroke-width="0.7"/>
<path d="M453.3 902.4 L449.1 903.5 L449.1 901.3 Z" fill="#333335" stroke="none"/>
<line x1="534.0" y1="902.4" x2="525.0" y2="902.4" stroke-width="0.7"/>
<path d="M525.0 902.4 L529.2 901.3 L529.2 903.5 Z" fill="#333335" stroke="none"/>
<text x="566.0" y="872.8" font-size="9.05" text-anchor="middle" font-weight="normal" stroke="none">(0.60)</text>
<text x="567.0" y="882.5" font-size="9.05" text-anchor="middle" font-weight="normal" stroke="none">.024</text>
<text x="566.0" y="891.8" font-size="9.05" text-anchor="middle" font-weight="normal" stroke="none">x</text>
<text x="566.0" y="901.5" font-size="9.05" text-anchor="middle" font-weight="normal" stroke="none">(0.80)</text>
<text x="567.0" y="911.8" font-size="9.05" text-anchor="middle" font-weight="normal" stroke="none">.031</text>
<line x1="538.1" y1="875.7" x2="538.1" y2="881.5" stroke-width="0.7"/>
<line x1="545.5" y1="875.7" x2="545.5" y2="881.5" stroke-width="0.7"/>
<line x1="531.0" y1="879.3" x2="538.1" y2="879.3" stroke-width="0.7"/>
<path d="M538.1 879.3 L533.9 880.4 L533.9 878.2 Z" fill="#333335" stroke="none"/>
<line x1="553.4" y1="879.3" x2="545.5" y2="879.3" stroke-width="0.7"/>
<path d="M545.5 879.3 L549.7 878.2 L549.7 880.4 Z" fill="#333335" stroke="none"/>
<text x="558.2" y="930.2" font-size="11" text-anchor="start" font-weight="bold" stroke="none" fill="#2b2b2d">&ndash;DV</text>
<line x1="608.5" y1="764.9" x2="608.5" y2="788.9" stroke-width="0.7"/>
<line x1="651.6" y1="764.9" x2="651.6" y2="788.9" stroke-width="0.7"/>
<line x1="617.6" y1="777.3" x2="608.5" y2="777.3" stroke-width="0.7"/>
<path d="M608.5 777.3 L612.7 776.2 L612.7 778.4 Z" fill="#333335" stroke="none"/>
<line x1="641.2" y1="777.3" x2="651.6" y2="777.3" stroke-width="0.7"/>
<path d="M651.6 777.3 L647.4 778.4 L647.4 776.2 Z" fill="#333335" stroke="none"/>
<text x="629.4" y="773.8" font-size="9.05" text-anchor="middle" font-weight="normal" stroke="none">(3.95)</text>
<text x="629.4" y="783.8" font-size="9.05" text-anchor="middle" font-weight="normal" stroke="none">.156</text>
<rect x="601.9" y="858.6" width="9.3" height="16.6" fill="#fff" stroke-width="0.8" rx="1.5"/>
<path d="M632.5 858.6 L632.5 871 L633.6 872.4 L632.6 875.5 Q632.6 878.4 635.3 878.4 Q638 878.4 638 875.5 L637 872.4 L638.1 871 L638.1 858.6 Z" fill="#fff" stroke-width="0.8"/>
<path d="M600.9 859.6 L593 859.6 Q591.4 859.6 591.4 861.5 Q591.4 863.4 593 863.4 L599.5 863.4 L600.9 861.8" fill="#fff" stroke-width="0.8"/>
<path d="M658.8 859.6 L667 859.6 Q668.6 859.6 668.6 861.5 Q668.6 863.4 667 863.4 L660.5 863.4 L658.8 861.8" fill="#fff" stroke-width="0.8"/>
<rect x="608.5" y="788.9" width="43.1" height="21.1" fill="#fff" stroke-width="0.8"/>
<rect x="595.3" y="810.0" width="69.7" height="48.6" fill="#fff" stroke-width="0.8"/>
<line x1="599.4" y1="810.0" x2="599.4" y2="856.6" stroke-width="0.8"/>
<line x1="661.9" y1="810.0" x2="661.9" y2="856.6" stroke-width="0.8"/>
<line x1="599.4" y1="856.6" x2="661.9" y2="856.6" stroke-width="0.8"/>
<line x1="621.6" y1="810.0" x2="621.6" y2="856.6" stroke-width="0.8"/>
<line x1="638.1" y1="810.0" x2="638.1" y2="856.6" stroke-width="0.8"/>
<line x1="655.7" y1="788.9" x2="689.8" y2="788.9" stroke-width="0.7"/>
<line x1="667.1" y1="810.0" x2="689.8" y2="810.0" stroke-width="0.7"/>
<line x1="677.8" y1="780.6" x2="677.8" y2="788.9" stroke-width="0.7"/>
<path d="M677.8 788.9 L676.7 784.7 L678.9 784.7 Z" fill="#333335" stroke="none"/>
<line x1="677.8" y1="820.0" x2="677.8" y2="810.0" stroke-width="0.7"/>
<path d="M677.8 810.0 L678.9 814.2 L676.7 814.2 Z" fill="#333335" stroke="none"/>
<text x="677.6" y="797.7" font-size="9.05" text-anchor="middle" font-weight="normal" stroke="none">(1.95)</text>
<text x="678.0" y="808.0" font-size="9.05" text-anchor="middle" font-weight="normal" stroke="none">.077</text>
<line x1="632.5" y1="878.5" x2="632.5" y2="886.8" stroke-width="0.7"/>
<line x1="638.1" y1="878.5" x2="638.1" y2="886.8" stroke-width="0.7"/>
<line x1="623.6" y1="883.5" x2="632.5" y2="883.5" stroke-width="0.7"/>
<path d="M632.5 883.5 L628.3 884.6 L628.3 882.4 Z" fill="#333335" stroke="none"/>
<line x1="646.4" y1="883.5" x2="638.1" y2="883.5" stroke-width="0.7"/>
<path d="M638.1 883.5 L642.3 882.4 L642.3 884.6 Z" fill="#333335" stroke="none"/>
<text x="659.0" y="879.4" font-size="9.05" text-anchor="middle" font-weight="normal" stroke="none">(0.50)</text>
<text x="660.0" y="889.4" font-size="9.05" text-anchor="middle" font-weight="normal" stroke="none">.020</text></svg>
</body></html>
